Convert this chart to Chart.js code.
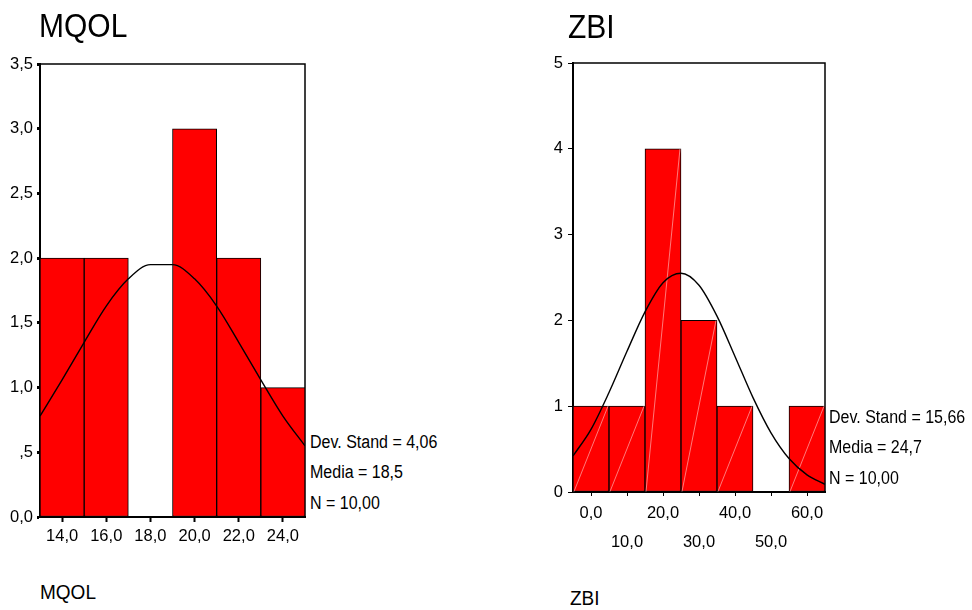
<!DOCTYPE html>
<html>
<head>
<meta charset="utf-8">
<style>
  body { margin: 0; background: #fff; width: 972px; height: 610px; position: relative; overflow: hidden;
         font-family: "Liberation Sans", Arial, sans-serif; color: #000; }
  canvas { position: absolute; top: 0; }
  .txt { position: absolute; white-space: nowrap; line-height: 1; transform-origin: left center; }
  .title { font-size: 30px; transform: scaleY(1.1); }
  .axisname { font-size: 19px; transform: scaleY(1.1); }
  .stat { font-size: 16px; transform: scaleY(1.1); }
</style>
</head>
<body>
<canvas id="mqol" width="310" height="560" style="left:0px"></canvas>
<canvas id="zbi" width="310" height="560" style="left:520px"></canvas>

<div class="txt title" style="left:39px; top:11px">MQOL</div>
<div class="txt title" style="left:568px; top:12px">ZBI</div>
<div class="txt axisname" style="left:40px; top:582px">MQOL</div>
<div class="txt axisname" style="left:570px; top:588px">ZBI</div>
<div id="mqolStats"></div>
<div id="zbiStats"></div>

<script src="https://cdn.jsdelivr.net/npm/chart.js@4.4.2/dist/chart.umd.min.js"></script>
<script>
// MQOL histogram (bin width 2)
const mqolBins = [14, 16, 18, 20, 22, 24];
const mqolCounts = [2, 2, 0, 3, 2, 1];
const mqolXLabels = ['14,0', '16,0', '18,0', '20,0', '22,0', '24,0'];
const mqolYLabels = ['0,0', ',5', '1,0', '1,5', '2,0', '2,5', '3,0', '3,5'];
// normal curve
const mqolCurveX = [13, 14, 15, 16, 17, 18, 19, 20, 21, 22, 23, 24, 25];
const mqolCurveY = [0.78, 1.06, 1.35, 1.63, 1.84, 1.95, 1.95, 1.84, 1.63, 1.35, 1.06, 0.78, 0.55];
const mqolStats = ['Dev. Stand = 4,06', 'Media = 18,5', 'N = 10,00'];

// ZBI histogram (bin width 10)
const zbiBins = [0, 10, 20, 30, 40, 50, 60];
const zbiCounts = [1, 1, 4, 2, 1, 0, 1];
const zbiXLabels = ['0,0', '10,0', '20,0', '30,0', '40,0', '50,0', '60,0'];
const zbiYLabels = ['0', '1', '2', '3', '4', '5'];
const zbiCurveX = [-5, 0, 5, 10, 15, 20, 25, 30, 35, 40, 45, 50, 55, 60, 65];
const zbiCurveY = [0.42, 0.73, 1.16, 1.64, 2.10, 2.44, 2.55, 2.41, 2.05, 1.58, 1.10, 0.69, 0.39, 0.20, 0.09];
const zbiStats = ['Dev. Stand = 15,66', 'Media = 24,7', 'N = 10,00'];

const FONT = '"Liberation Sans", Arial, sans-serif';

// box round the plot area, drawn under the bars
const framePlugin = {
  id: 'frame',
  beforeDatasetsDraw(chart) {
    const a = chart.chartArea, c = chart.ctx;
    c.save();
    c.strokeStyle = '#000';
    c.lineWidth = 1.5;
    c.strokeRect(a.left, a.top, a.right - a.left, a.bottom - a.top);
    c.restore();
  }
};

// faint diagonal streak inside each ZBI bar (as in the printed SPSS output)
const streakPlugin = {
  id: 'streak',
  afterDatasetDraw(chart, args) {
    if (!chart.options.plugins.streak || args.meta.type !== 'bar') return;
    const c = chart.ctx;
    c.save();
    c.strokeStyle = 'rgba(255,190,190,0.8)';
    c.lineWidth = 0.8;
    args.meta.data.forEach(bar => {
      const p = bar.getProps(['x', 'y', 'base', 'width']);
      if (p.base - p.y < 2) return;
      c.beginPath();
      c.moveTo(p.x - p.width / 2 + 1, p.base);
      c.lineTo(p.x + p.width / 2 - 1, p.y);
      c.stroke();
    });
    c.restore();
  }
};

function makeHist(id, cfg) {
  return new Chart(document.getElementById(id), {
    type: 'bar',
    data: {
      datasets: [
        {
          type: 'line',
          data: cfg.curveX.map((x, i) => ({ x: x, y: cfg.curveY[i] })),
          borderColor: '#000',
          borderWidth: 1.4,
          pointRadius: 0,
          cubicInterpolationMode: 'monotone',
          order: 0
        },
        {
          data: cfg.bins.map((x, i) => ({ x: x, y: cfg.counts[i] })),
          backgroundColor: '#ff0000',
          borderColor: '#000',
          borderWidth: 1,
          borderSkipped: false,
          barPercentage: 1,
          categoryPercentage: 1,
          order: 1
        }
      ]
    },
    options: {
      responsive: false,
      animation: false,
      layout: { padding: { top: cfg.top, right: 5, left: 0, bottom: 0 } },
      plugins: { legend: { display: false }, tooltip: { enabled: false }, streak: cfg.stagger },
      scales: {
        x: {
          type: 'linear',
          min: cfg.xmin,
          max: cfg.xmax,
          offset: false,
          grid: { display: true, offset: false, drawOnChartArea: false, color: '#000',
                  tickLength: cfg.xTickLen, tickWidth: cfg.xTickWidth },
          border: { display: true, color: '#000', width: 2 },
          afterBuildTicks: s => { s.ticks = cfg.bins.map(v => ({ value: v })); },
          afterFit: s => { s.height = cfg.xHeight; },
          ticks: {
            autoSkip: false,
            maxRotation: 0,
            padding: cfg.xPad,
            color: '#000',
            font: { family: FONT, size: 16.5, lineHeight: cfg.lineH },
            callback: (v, i) => cfg.stagger && i % 2 ? ['', cfg.xLabels[i]] : cfg.xLabels[i]
          }
        },
        y: {
          min: 0,
          max: cfg.ymax,
          grid: { display: true, drawOnChartArea: false, color: '#000',
                  tickLength: cfg.yTickLen, tickWidth: cfg.yTickWidth },
          border: { display: true, color: '#000', width: 2 },
          afterFit: s => { s.width = cfg.yWidth; },
          ticks: {
            stepSize: cfg.ystep,
            padding: cfg.yPad,
            color: '#000',
            font: { family: FONT, size: 16.5 },
            callback: (v, i) => cfg.yLabels[i]
          }
        }
      }
    },
    plugins: [framePlugin, streakPlugin]
  });
}

makeHist('mqol', {
  bins: mqolBins, counts: mqolCounts, curveX: mqolCurveX, curveY: mqolCurveY,
  xLabels: mqolXLabels, yLabels: mqolYLabels,
  xmin: 13, xmax: 25, ymax: 3.5, ystep: 0.5,
  top: 64, yWidth: 40, xHeight: 43,
  xTickLen: 5, xTickWidth: 2, xPad: 5, lineH: 1.2,
  yTickLen: 3, yTickWidth: 3, yPad: 4, stagger: false
});

makeHist('zbi', {
  bins: zbiBins, counts: zbiCounts, curveX: zbiCurveX, curveY: zbiCurveY,
  xLabels: zbiXLabels, yLabels: zbiYLabels,
  xmin: -5, xmax: 65, ymax: 5, ystep: 1,
  top: 63, yWidth: 53, xHeight: 68,
  xTickLen: 4, xTickWidth: 1, xPad: 3, lineH: 1.75,
  yTickLen: 5, yTickWidth: 1, yPad: 5, stagger: true
});

// statistics text beside each plot
function putStats(el, lines, left, centers) {
  const box = document.getElementById(el);
  lines.forEach((t, i) => {
    const d = document.createElement('div');
    d.className = 'txt stat';
    d.style.left = left + 'px';
    d.style.top = (centers[i] - 8) + 'px';
    d.textContent = t;
    box.appendChild(d);
  });
}
putStats('mqolStats', mqolStats, 310, [442, 472, 503]);
putStats('zbiStats', zbiStats, 829, [417, 447, 478]);
</script>
</body>
</html>
